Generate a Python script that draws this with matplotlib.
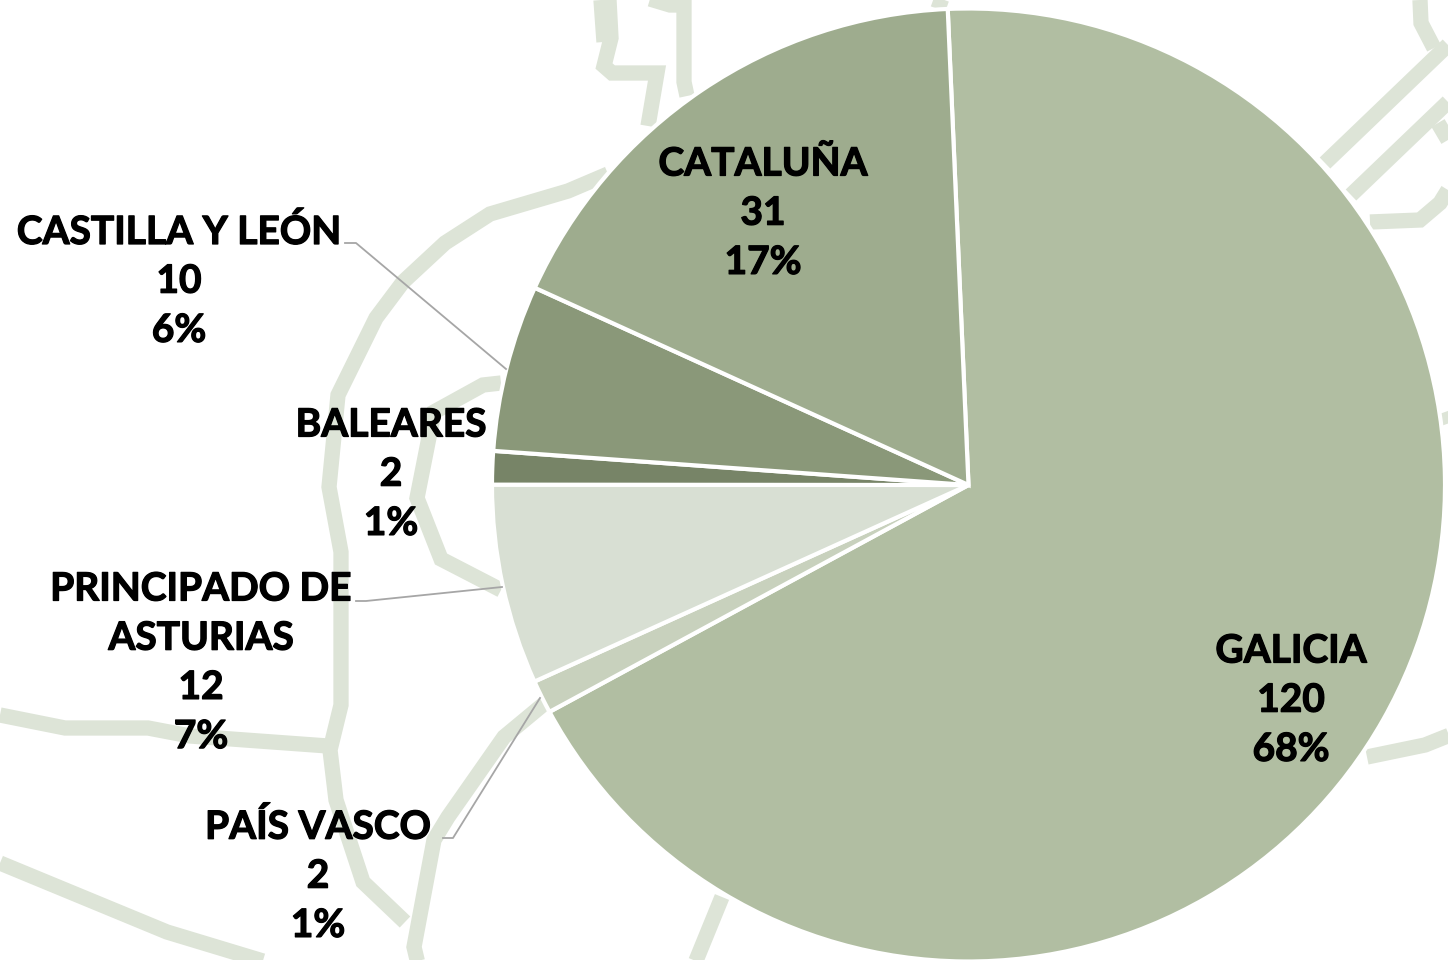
import matplotlib
matplotlib.use('Agg')
import matplotlib.pyplot as plt
import matplotlib.patheffects as pe

# pie data, clockwise from the top
regions = ['GALICIA', 'PAÍS VASCO', 'PRINCIPADO DE\nASTURIAS', 'BALEARES', 'CASTILLA Y LEÓN', 'CATALUÑA']
counts = [120, 2, 12, 2, 10, 31]
percents = [68, 1, 7, 1, 6, 17]
colors = ['#B1BEA2', '#C8D1BD', '#D8DFD3', '#778467', '#8A9879', '#9EAC8E']

# first line of each label, in pixels of the picture
label_x = [1291, 318, 201, 391, 179, 763]
label_y = [651, 827, 589, 425, 232, 164]

# decoration: the road map behind the pie, in pixels
map_lines = [
    [(608, 174), (568, 191), (490, 214), (445, 243), (403, 282), (376, 318), (338, 395), (329, 487),
     (341, 552), (341, 705), (330, 750), (336, 800), (363, 882), (405, 922)],
    [(0, 715), (65, 728), (148, 728), (190, 736), (328, 746)],
    [(0, 863), (167, 932), (286, 968)],
    [(545, 703), (504, 737), (448, 817), (434, 840), (414, 947), (419, 968)],
    [(722, 897), (693, 968)],
    [(501, 383), (483, 385), (434, 412), (417, 498), (441, 559), (501, 590)],
    [(609, 0), (611, 38), (604, 66), (612, 73), (657, 73), (648, 126)],
    [(601, 0), (604, 42)],
    [(640, -4), (670, 5), (684, 5), (684, 82), (687, 96)],
    [(942, -2), (938, 9)],
    [(1325, 163), (1448, 45)],
    [(1351, 195), (1448, 102)],
    [(1420, 0), (1421, 23), (1434, 48)],
    [(1370, 222), (1420, 220), (1440, 203), (1448, 190)],
    [(1438, 123), (1448, 140)],
    [(1367, 757), (1425, 745), (1450, 735)],
    [(1445, 412), (1450, 426)],
]

leaders = [
    [(345, 243), (356, 243), (506, 369)],
    [(356, 601), (366, 601), (502, 587)],
    [(443, 838), (453, 838), (540, 698)],
]

W, H = 1448, 960
cx, cy, r = 968.5, 485, 476.5

fig = plt.figure(figsize=(W / 100, H / 100), dpi=100, facecolor='white')

bg = fig.add_axes([0, 0, 1, 1], zorder=0)
bg.set_xlim(0, W)
bg.set_ylim(H, 0)
bg.axis('off')
for path in map_lines:
    bg.plot([p[0] for p in path], [p[1] for p in path], color='#DDE4D7', lw=11,
            solid_capstyle='butt', solid_joinstyle='miter')

ax = fig.add_axes([(cx - r) / W, (H - cy - r) / H, 2 * r / W, 2 * r / H], zorder=1)
ax.pie(counts, colors=colors, startangle=92.5, counterclock=False,
       wedgeprops={'edgecolor': 'white', 'linewidth': 3, 'clip_on': False})
ax.set_xlim(-1, 1)
ax.set_ylim(-1, 1)
ax.patch.set_alpha(0)

top = fig.add_axes([0, 0, 1, 1], zorder=2)
top.set_xlim(0, W)
top.set_ylim(H, 0)
top.axis('off')
top.patch.set_alpha(0)
for path in leaders:
    top.plot([p[0] for p in path], [p[1] for p in path], color='#A6A6A6', lw=1.3)

for name, n, pct, x, y in zip(regions, counts, percents, label_x, label_y):
    lines = name.split('\n') + [str(n), '%d%%' % pct]
    for i, s in enumerate(lines):
        t = top.text(x, y + i * 49.2, s, ha='center', va='center', color='black',
                     fontsize=28, fontweight='bold', family='Lato')
        t.set_path_effects([pe.withStroke(linewidth=0.9, foreground='black')])

fig.savefig('out.png', dpi=100)
